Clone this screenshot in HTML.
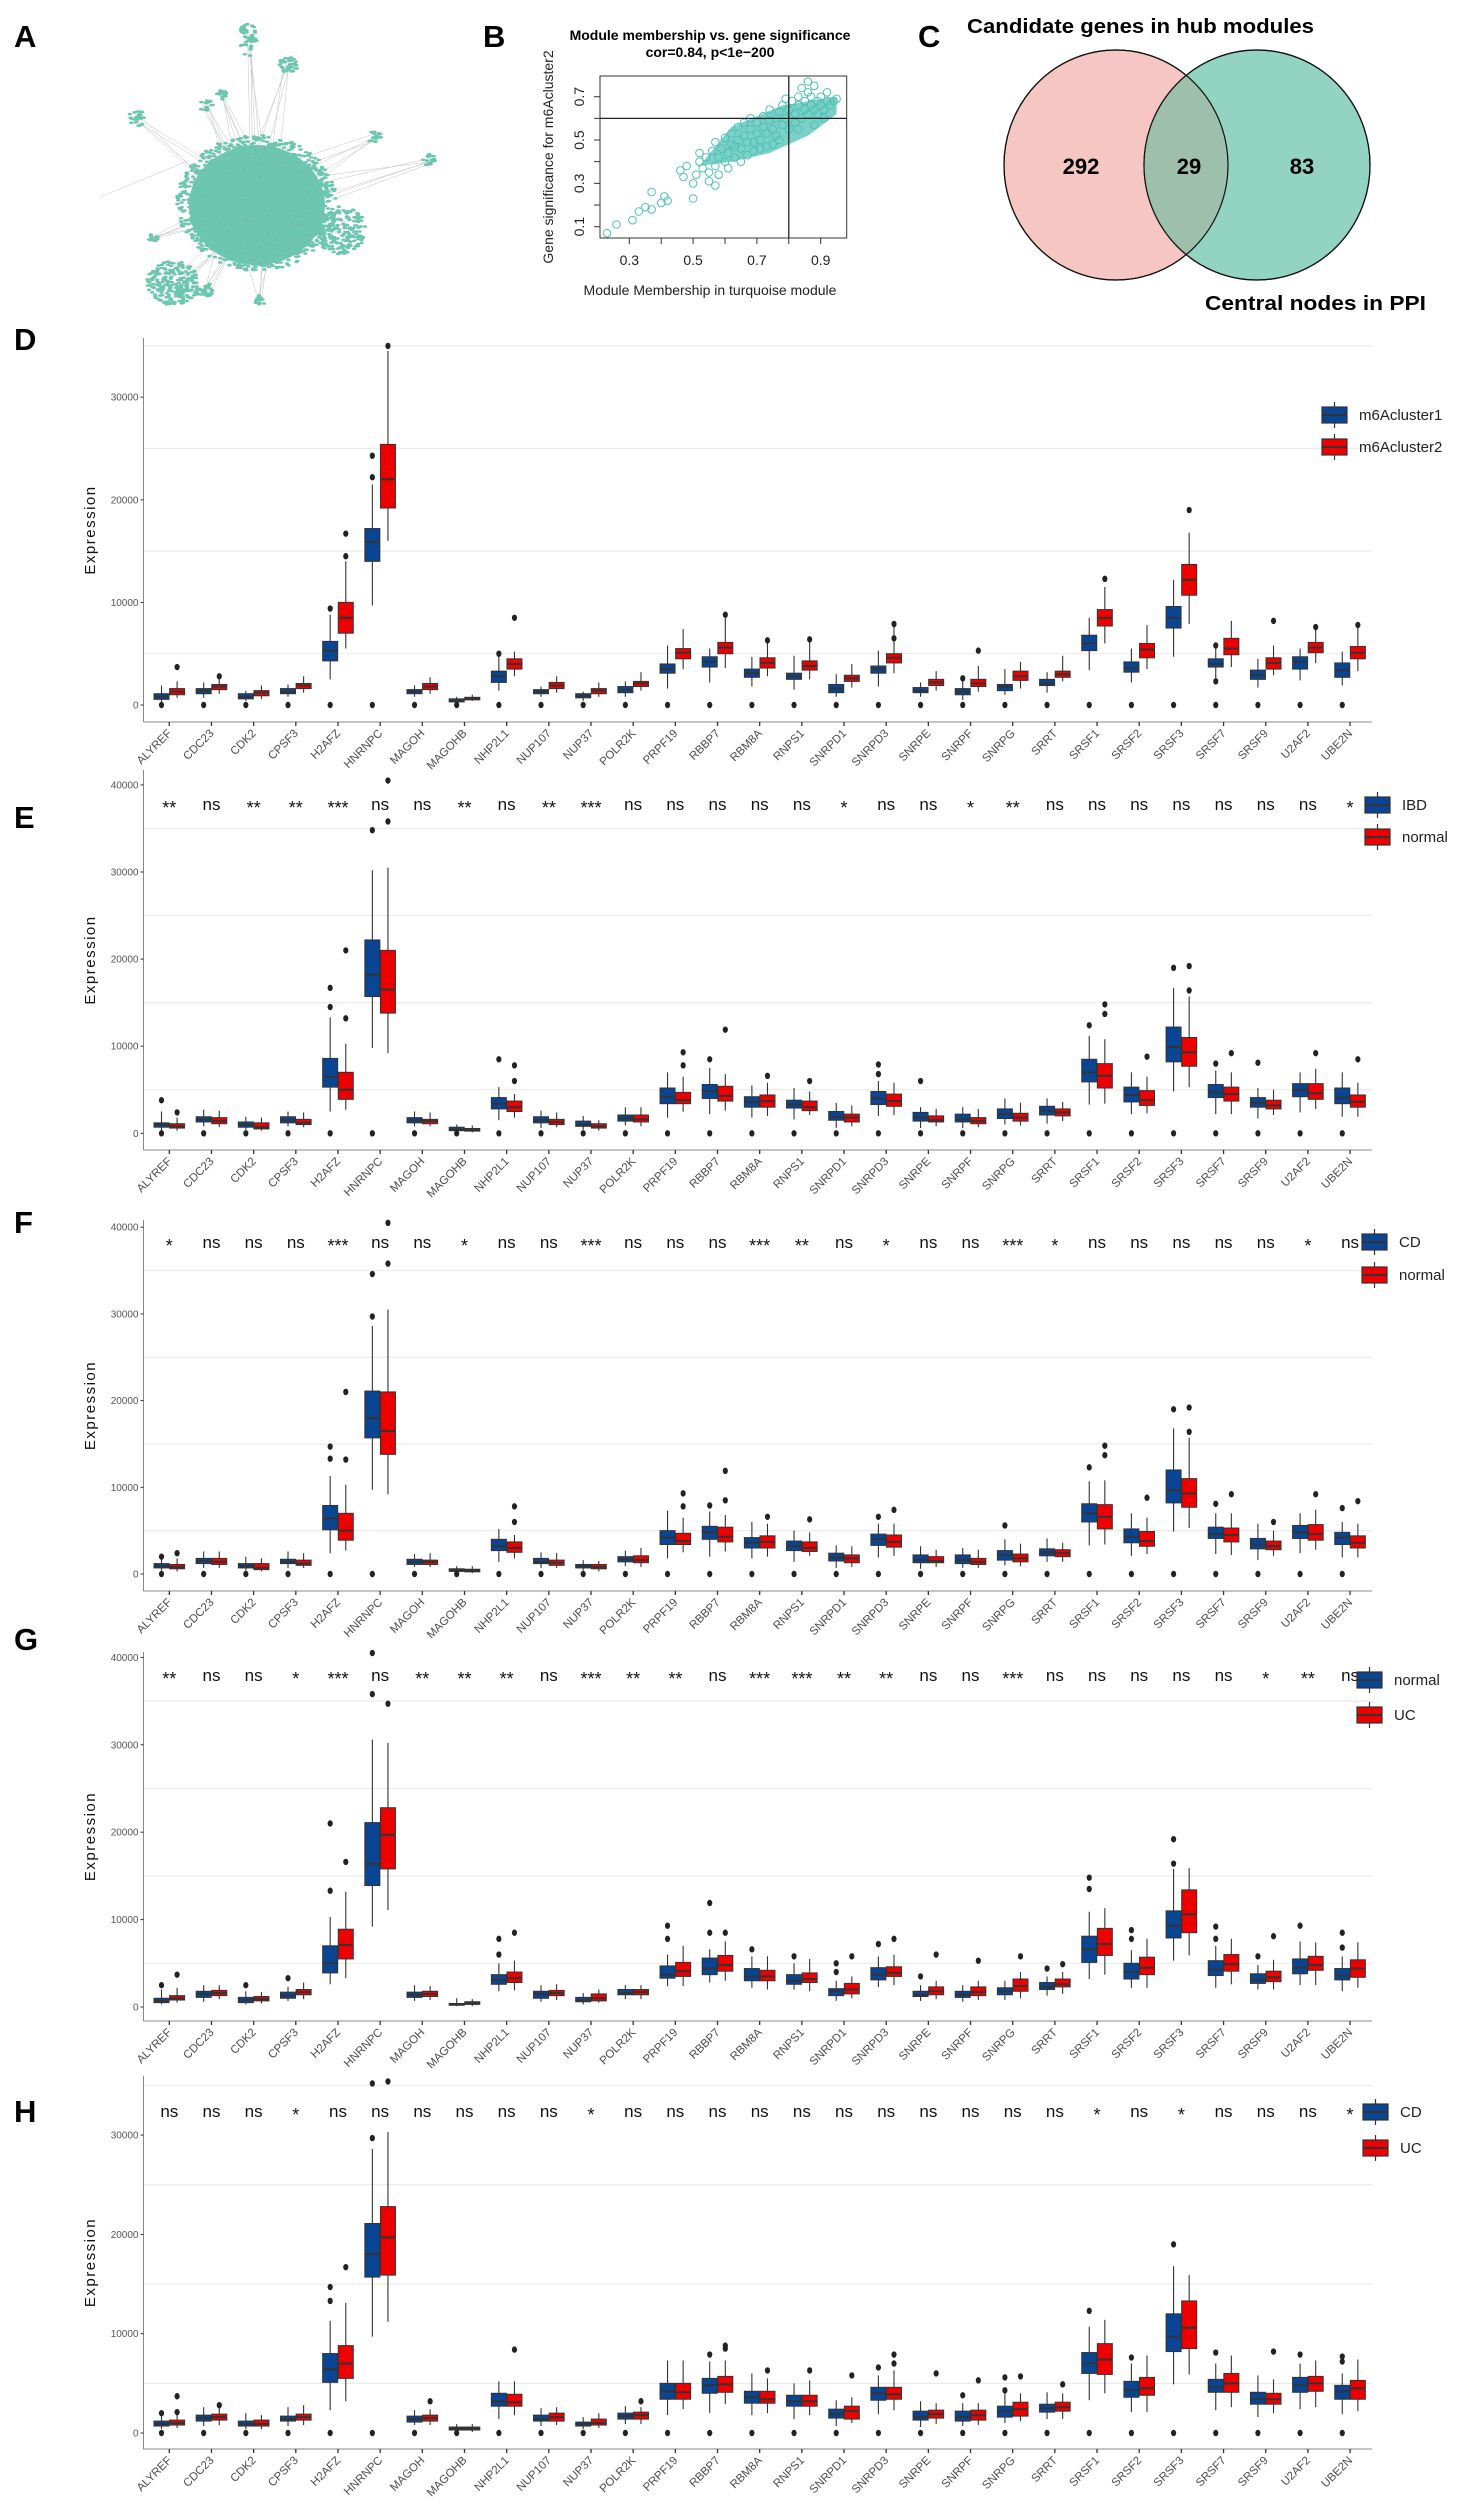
<!DOCTYPE html>
<html><head><meta charset="utf-8"><title>Figure</title>
<style>
html,body{margin:0;padding:0;background:#fff;}
svg{display:block;font-family:"Liberation Sans",Arial,sans-serif;}
</style></head>
<body>
<svg id="fig" width="1471" height="2500" viewBox="0 0 1471 2500" xmlns="http://www.w3.org/2000/svg">
  <g id="panelA"></g>
  <g id="panelB"></g>
  <g id="panelC">
    <defs>
      <clipPath id="clipPink"><ellipse cx="1116" cy="165" rx="112" ry="115"/></clipPath>
    </defs>
    <ellipse cx="1116" cy="165" rx="112" ry="115" fill="#f5c6c2" stroke="#111" stroke-width="1.2"/>
    <ellipse cx="1257" cy="165" rx="113" ry="115" fill="#93d3c1" stroke="#111" stroke-width="1.2"/>
    <ellipse cx="1257" cy="165" rx="113" ry="115" fill="#9dbfab" clip-path="url(#clipPink)"/>
    <ellipse cx="1116" cy="165" rx="112" ry="115" fill="none" stroke="#111" stroke-width="1.2"/>
    <ellipse cx="1257" cy="165" rx="113" ry="115" fill="none" stroke="#111" stroke-width="1.2"/>
    <text x="1081" y="174" font-size="22" font-weight="bold" text-anchor="middle">292</text>
    <text x="1189" y="174" font-size="22" font-weight="bold" text-anchor="middle">29</text>
    <text x="1302" y="174" font-size="22" font-weight="bold" text-anchor="middle">83</text>
    <text x="967" y="33" font-size="20" font-weight="bold" textLength="347" lengthAdjust="spacingAndGlyphs">Candidate genes in hub modules</text>
    <text x="1205" y="310" font-size="20" font-weight="bold" textLength="221" lengthAdjust="spacingAndGlyphs">Central nodes in PPI</text>
  </g>
  <g id="labels" font-weight="bold" font-size="31">
    <text x="14" y="47">A</text>
    <text x="483" y="47">B</text>
    <text x="918" y="47">C</text>
    <text x="14" y="350">D</text>
    <text x="14" y="828">E</text>
    <text x="14" y="1233">F</text>
    <text x="14" y="1650">G</text>
    <text x="14" y="2122">H</text>
  </g>
  <g id="boxPanels"></g>
</svg>
<script>
// ---------------- shared gene categories ----------------
const genes = ["ALYREF","CDC23","CDK2","CPSF3","H2AFZ","HNRNPC","MAGOH","MAGOHB","NHP2L1","NUP107","NUP37","POLR2K","PRPF19","RBBP7","RBM8A","RNPS1","SNRPD1","SNRPD3","SNRPE","SNRPF","SNRPG","SRRT","SRSF1","SRSF2","SRSF3","SRSF7","SRSF9","U2AF2","UBE2N"];

// box stats per gene: [q1, median, q3, whiskerLow, whiskerHigh] (thousands)
// ---- Panel D: m6Acluster1 vs m6Acluster2 ----
const D_blue = [[.55,.8,1.1,.3,1.9],[1.1,1.4,1.6,.7,2.2],[.6,.8,1.1,.4,1.4],[1.1,1.3,1.6,.8,2.0],[4.3,5.3,6.2,2.5,8.8],[14.0,15.9,17.2,9.7,21.5],[1.1,1.3,1.5,.8,1.9],[.3,.45,.6,.1,.8],[2.2,2.8,3.3,1.4,5.0],[1.1,1.3,1.5,.8,1.8],[.7,.9,1.1,.4,1.3],[1.2,1.5,1.8,.8,2.3],[3.1,3.5,4.0,1.6,5.8],[3.7,4.2,4.7,2.2,5.5],[2.7,3.1,3.5,1.8,4.7],[2.5,2.8,3.1,1.5,4.8],[1.2,1.6,2.0,.8,3.0],[3.1,3.5,3.8,1.8,5.3],[1.2,1.4,1.7,.8,2.2],[1.0,1.3,1.6,.5,2.6],[1.4,1.8,2.0,1.0,3.5],[1.9,2.1,2.5,1.2,3.2],[5.3,6.0,6.8,3.4,8.5],[3.2,3.6,4.2,2.2,5.5],[7.5,8.5,9.6,4.7,12.2],[3.7,4.0,4.5,2.5,5.7],[2.5,2.9,3.4,1.7,4.5],[3.5,4.2,4.7,2.4,5.5],[2.7,3.4,4.1,1.9,5.2]];
const D_red = [[1.0,1.3,1.6,.7,2.3],[1.5,1.8,2.0,1.1,2.6],[.9,1.2,1.4,.6,1.9],[1.6,1.9,2.1,1.2,2.8],[7.0,8.5,10.0,5.5,14.0],[19.2,22.0,25.4,16.0,34.5],[1.5,1.8,2.1,1.1,2.7],[.5,.65,.75,.4,1.0],[3.5,4.0,4.5,2.8,5.2],[1.6,1.9,2.2,1.2,2.8],[1.1,1.4,1.6,.8,2.2],[1.8,2.1,2.3,1.4,3.2],[4.5,5.1,5.5,3.5,7.4],[5.0,5.6,6.1,3.6,8.5],[3.6,4.1,4.6,2.8,6.2],[3.4,3.8,4.3,2.5,6.3],[2.3,2.6,2.9,1.7,4.0],[4.1,4.6,5.0,3.1,7.8],[1.9,2.2,2.5,1.4,3.3],[1.8,2.1,2.5,1.3,3.8],[2.4,2.8,3.3,1.6,4.2],[2.7,3.0,3.3,2.3,4.8],[7.7,8.5,9.3,6.0,11.5],[4.6,5.4,6.0,3.5,7.8],[10.7,12.2,13.7,7.9,16.8],[4.9,5.5,6.5,3.7,8.2],[3.5,4.1,4.6,2.9,5.8],[5.1,5.6,6.1,4.1,7.8],[4.5,5.1,5.7,3.3,7.6]];
const D_outliers = [[4,0,9.4],[4,1,14.5],[4,1,16.7],[5,0,22.2],[5,0,24.3],[5,1,35.0],[0,1,3.7],[1,1,2.8],[8,0,5.0],[8,1,8.5],[13,1,8.8],[14,1,6.3],[15,1,6.4],[17,1,7.9],[17,1,6.5],[19,0,2.6],[19,1,5.3],[22,1,12.3],[24,1,19.0],[25,0,2.3],[25,0,5.8],[26,1,8.2],[27,1,7.6],[28,1,7.8]];
const D_zeros = [0,1,2,3,4,5,6,7,8,9,10,11,12,13,14,15,16,17,18,19,20,21,22,23,24,25,26,27,28];
const D_legend = ["m6Acluster1","m6Acluster2"];
const D_yticks = [0,10000,20000,30000];

// ---- Panel E: IBD vs normal ----
const E_blue = [[.7,1.0,1.2,.3,2.5],[1.3,1.6,1.9,.8,2.7],[.7,1.0,1.3,.4,1.9],[1.2,1.5,1.9,.8,2.5],[5.3,6.5,8.6,2.5,13.3],[15.7,18.2,22.2,9.8,30.2],[1.2,1.5,1.8,.8,2.5],[.3,.45,.7,.1,1.0],[2.8,3.4,4.1,1.5,5.3],[1.2,1.5,1.9,.6,2.6],[.8,1.0,1.4,.4,2.0],[1.4,1.7,2.1,.9,3.0],[3.4,4.2,5.2,1.8,7.0],[4.0,4.8,5.6,2.2,7.5],[3.0,3.6,4.2,1.8,5.5],[2.9,3.3,3.8,1.6,5.2],[1.5,1.9,2.5,.6,3.5],[3.3,4.0,4.8,2.0,6.0],[1.4,1.8,2.4,.6,3.0],[1.3,1.6,2.2,.6,3.0],[1.7,2.2,2.8,1.0,4.0],[2.1,2.6,3.1,1.1,4.0],[5.9,7.0,8.5,3.3,11.2],[3.6,4.4,5.3,2.2,7.0],[8.2,9.9,12.2,4.8,16.7],[4.1,4.7,5.6,2.2,7.2],[3.0,3.5,4.1,1.7,5.2],[4.2,5.0,5.7,2.4,7.0],[3.4,4.1,5.2,1.9,7.0]];
const E_red = [[.6,.8,1.1,.3,1.8],[1.1,1.4,1.8,.7,2.6],[.5,.7,1.2,.3,1.8],[1.0,1.2,1.6,.7,2.4],[3.9,5.0,7.0,2.7,10.3],[13.8,16.5,21.0,9.2,30.5],[1.1,1.4,1.6,.8,2.4],[.25,.4,.55,.1,.9],[2.5,3.0,3.7,1.8,4.5],[1.0,1.3,1.6,.7,2.4],[.6,.8,1.1,.3,1.5],[1.3,1.6,2.1,.8,3.0],[3.4,3.8,4.7,2.5,6.5],[3.7,4.3,5.4,2.6,6.8],[3.0,3.7,4.4,2.0,5.8],[2.6,3.0,3.7,2.1,4.8],[1.3,1.8,2.2,.8,3.2],[3.1,3.7,4.5,2.1,5.8],[1.3,1.5,2.0,.8,2.8],[1.1,1.4,1.8,.7,2.8],[1.4,1.8,2.3,.9,3.5],[2.0,2.4,2.8,1.4,3.6],[5.2,6.6,8.0,3.4,10.8],[3.2,3.8,4.9,2.3,6.5],[7.7,9.3,11.0,5.3,15.7],[3.7,4.5,5.3,2.2,7.0],[2.8,3.2,3.8,2.1,5.0],[3.9,4.6,5.7,2.8,7.4],[3.0,3.6,4.4,1.9,5.8]];
const E_outliers = [[0,0,3.8],[0,1,2.4],[4,0,14.5],[4,0,16.7],[4,1,13.2],[4,1,21.0],[5,0,34.8],[5,1,35.8],[5,1,40.5],[8,0,8.5],[8,1,6.0],[8,1,7.8],[12,1,7.8],[12,1,9.3],[13,0,8.5],[13,1,11.9],[14,1,6.6],[15,1,6.0],[17,0,6.8],[17,0,7.9],[18,0,6.0],[22,0,12.4],[22,1,13.7],[22,1,14.8],[23,1,8.8],[24,0,19.0],[24,1,16.4],[24,1,19.2],[25,0,8.0],[25,1,9.2],[26,0,8.1],[27,1,9.2],[28,1,8.5]];
const E_zeros = [0,1,2,3,4,5,6,7,8,9,10,11,12,13,14,15,16,17,18,19,20,21,22,23,24,25,26,27,28];
const E_legend = ["IBD","normal"];
const E_stars = ["**","ns","**","**","***","ns","ns","**","ns","**","***","ns","ns","ns","ns","ns","*","ns","ns","*","**","ns","ns","ns","ns","ns","ns","ns","*"];
const E_yticks = [0,10000,20000,30000,40000];

// ---- Panel F: CD vs normal ----
const F_blue = [[.7,.9,1.2,.4,2.0],[1.2,1.5,1.8,.7,2.6],[.7,.9,1.2,.4,2.0],[1.2,1.4,1.7,.7,2.6],[5.1,6.4,7.9,2.4,11.3],[15.7,18.0,21.1,9.7,28.6],[1.1,1.4,1.7,.8,2.3],[.3,.45,.6,.1,.9],[2.7,3.2,4.0,1.4,5.2],[1.2,1.4,1.8,.7,2.5],[.7,.9,1.1,.4,1.6],[1.4,1.7,2.0,.9,2.7],[3.4,4.2,5.0,1.8,7.3],[4.0,4.8,5.5,2.0,7.2],[3.0,3.6,4.2,1.8,6.0],[2.7,3.2,3.8,1.4,5.0],[1.5,1.9,2.4,.7,3.3],[3.3,4.0,4.6,1.9,5.8],[1.3,1.6,2.2,.6,3.2],[1.2,1.6,2.2,.7,3.0],[1.6,2.2,2.7,1.0,4.0],[2.1,2.5,2.9,1.4,4.1],[6.0,7.0,8.1,3.3,10.7],[3.6,4.3,5.2,2.1,7.0],[8.2,9.7,12.0,4.9,16.8],[4.1,4.6,5.4,2.3,7.0],[2.9,3.4,4.1,1.6,5.8],[4.1,4.8,5.6,2.4,7.0],[3.4,4.2,4.8,1.9,6.0]];
const F_red = [[.6,.8,1.1,.3,1.8],[1.1,1.4,1.8,.7,2.6],[.5,.7,1.2,.3,1.8],[1.0,1.2,1.6,.7,2.4],[3.9,5.0,7.0,2.7,10.3],[13.8,16.5,21.0,9.2,30.5],[1.1,1.4,1.6,.8,2.4],[.25,.4,.55,.1,.9],[2.5,3.0,3.7,1.8,4.5],[1.0,1.3,1.6,.7,2.4],[.6,.8,1.1,.3,1.5],[1.3,1.6,2.1,.8,3.0],[3.4,3.8,4.7,2.5,6.5],[3.7,4.3,5.4,2.6,6.8],[3.0,3.7,4.4,2.0,5.8],[2.6,3.0,3.7,2.1,4.8],[1.3,1.8,2.2,.8,3.2],[3.1,3.7,4.5,2.1,5.8],[1.3,1.5,2.0,.8,2.8],[1.1,1.4,1.8,.7,2.8],[1.4,1.8,2.3,.9,3.5],[2.0,2.4,2.8,1.4,3.6],[5.2,6.6,8.0,3.4,10.8],[3.2,3.8,4.9,2.3,6.5],[7.7,9.3,11.0,5.3,15.7],[3.7,4.5,5.3,2.2,7.0],[2.8,3.2,3.8,2.1,5.0],[3.9,4.6,5.7,2.8,7.4],[3.0,3.6,4.4,1.9,5.8]];
const F_outliers = [[0,0,2.0],[0,1,2.4],[4,0,13.3],[4,0,14.7],[4,1,13.2],[4,1,21.0],[5,0,29.7],[5,0,34.6],[5,1,35.8],[5,1,40.5],[8,1,6.0],[8,1,7.8],[12,1,7.8],[12,1,9.3],[13,0,7.9],[13,1,8.5],[13,1,11.9],[14,1,6.6],[15,1,6.3],[17,0,6.6],[17,1,7.4],[20,0,5.6],[22,0,12.3],[22,1,13.7],[22,1,14.8],[23,1,8.8],[24,0,19.0],[24,1,16.4],[24,1,19.2],[25,0,8.1],[25,1,9.2],[26,1,6.0],[27,1,9.2],[28,0,7.6],[28,1,8.4]];
const F_zeros = [0,1,2,3,4,5,6,7,8,9,10,11,12,13,14,15,16,17,18,19,20,21,22,23,24,25,26,27,28];
const F_legend = ["CD","normal"];
const F_stars = ["*","ns","ns","ns","***","ns","ns","*","ns","ns","***","ns","ns","ns","***","**","ns","*","ns","ns","***","*","ns","ns","ns","ns","ns","*","ns"];
const F_yticks = [0,10000,20000,30000,40000];

// ---- Panel G: normal vs UC ----
const G_blue = [[.5,.7,1.0,.3,2.0],[1.1,1.5,1.8,.6,2.5],[.5,.8,1.1,.3,1.8],[1.0,1.3,1.7,.7,2.3],[3.9,5.0,7.0,2.6,10.3],[13.9,16.4,21.1,9.2,30.6],[1.1,1.4,1.7,.7,2.5],[.2,.3,.4,.1,1.0],[2.6,3.1,3.7,1.8,5.0],[1.0,1.5,1.8,.6,2.5],[.6,.8,1.1,.3,1.6],[1.4,1.6,2.0,.9,2.5],[3.3,3.7,4.7,2.4,6.0],[3.7,4.4,5.6,2.8,6.6],[3.0,3.5,4.4,2.2,5.8],[2.6,3.0,3.7,2.0,5.0],[1.3,1.8,2.1,.7,3.0],[3.1,3.7,4.5,2.3,5.8],[1.2,1.4,1.8,.7,2.5],[1.1,1.4,1.8,.6,2.5],[1.4,1.8,2.2,.8,3.0],[2.0,2.3,2.8,1.3,3.5],[5.1,6.6,8.1,3.2,10.9],[3.2,4.0,5.0,2.2,6.5],[7.9,9.3,11.0,5.3,15.8],[3.6,4.3,5.3,2.2,7.0],[2.7,3.1,3.8,2.0,4.8],[3.8,4.5,5.5,2.5,7.5],[3.1,3.6,4.4,1.8,5.8]];
const G_red = [[.8,1.0,1.3,.5,2.2],[1.3,1.6,1.9,.9,2.5],[.7,.9,1.2,.4,1.7],[1.4,1.7,2.0,.9,2.8],[5.5,7.1,8.9,3.3,13.2],[15.8,19.7,22.8,11.1,30.2],[1.2,1.5,1.8,.8,2.4],[.3,.45,.6,.1,.9],[2.8,3.3,4.0,1.9,5.3],[1.3,1.6,1.9,.8,2.6],[.7,1.0,1.5,.5,2.0],[1.4,1.7,2.0,.9,2.5],[3.5,4.1,5.1,2.4,7.0],[4.1,4.8,5.9,3.0,7.5],[3.0,3.5,4.2,2.0,5.8],[2.8,3.2,3.9,1.8,5.5],[1.5,2.0,2.7,1.0,3.5],[3.5,3.9,4.6,2.5,6.0],[1.4,1.8,2.3,.9,3.0],[1.3,1.7,2.3,.8,3.0],[1.8,2.4,3.2,1.0,4.0],[2.3,2.6,3.2,1.5,4.0],[5.9,7.2,9.0,3.7,11.3],[3.7,4.5,5.7,2.2,7.8],[8.5,10.6,13.4,5.9,15.9],[4.1,4.9,6.0,2.6,7.8],[2.9,3.4,4.1,2.0,5.4],[4.2,4.8,5.8,2.5,7.4],[3.4,4.4,5.4,2.2,7.4]];
const G_outliers = [[0,0,2.5],[0,1,3.7],[2,0,2.5],[3,0,3.3],[4,0,13.3],[4,0,21.0],[4,1,16.6],[5,0,35.8],[5,0,40.5],[5,1,34.7],[8,0,6.0],[8,0,7.8],[8,1,8.5],[12,0,7.8],[12,0,9.3],[13,0,8.5],[13,0,11.9],[13,1,8.5],[14,0,6.6],[15,0,5.8],[16,0,4.0],[16,0,5.0],[16,1,5.8],[17,0,7.2],[17,1,7.8],[18,0,3.5],[18,1,6.0],[19,1,5.3],[20,1,5.8],[21,0,4.4],[21,1,4.9],[22,0,13.5],[22,0,14.8],[23,0,7.8],[23,0,8.8],[24,0,16.4],[24,0,19.2],[25,0,7.8],[25,0,9.2],[26,0,5.8],[26,1,8.1],[27,0,9.3],[28,0,6.8],[28,0,8.5]];
const G_zeros = [];
const G_legend = ["normal","UC"];
const G_stars = ["**","ns","ns","*","***","ns","**","**","**","ns","***","**","**","ns","***","***","**","**","ns","ns","***","ns","ns","ns","ns","ns","*","**","ns"];
const G_yticks = [0,10000,20000,30000,40000];

// ---- Panel H: CD vs UC ----
const H_blue = [[.7,.9,1.2,.4,2.0],[1.2,1.5,1.8,.7,2.6],[.7,.9,1.2,.4,2.0],[1.2,1.4,1.7,.7,2.6],[5.1,6.4,8.0,2.3,11.3],[15.7,18.0,21.1,9.7,28.6],[1.1,1.4,1.7,.8,2.3],[.3,.45,.6,.1,.9],[2.7,3.2,4.0,1.4,5.2],[1.2,1.4,1.8,.7,2.5],[.7,.9,1.1,.4,1.6],[1.4,1.7,2.0,.9,2.7],[3.4,4.2,5.0,1.8,7.3],[4.0,4.8,5.5,2.0,7.2],[3.0,3.6,4.2,1.8,6.0],[2.7,3.2,3.8,1.4,5.0],[1.5,1.9,2.4,.7,3.3],[3.3,4.0,4.6,1.9,5.8],[1.3,1.6,2.2,.6,3.2],[1.2,1.6,2.2,.7,3.0],[1.6,2.2,2.7,1.0,4.0],[2.1,2.5,2.9,1.4,4.1],[6.0,7.0,8.1,3.3,10.7],[3.6,4.3,5.2,2.1,7.0],[8.2,9.7,12.0,4.9,16.8],[4.1,4.6,5.4,2.3,7.0],[2.9,3.4,4.1,1.6,5.8],[4.1,4.8,5.6,2.4,7.0],[3.4,4.2,4.8,1.9,6.0]];
const H_red = [[.8,1.0,1.3,.5,2.0],[1.3,1.6,1.9,.8,2.7],[.7,.9,1.3,.4,1.8],[1.3,1.6,1.9,.8,2.8],[5.5,7.0,8.8,3.2,13.1],[15.9,19.7,22.8,11.2,30.3],[1.2,1.5,1.8,.8,2.4],[.3,.45,.6,.1,.9],[2.7,3.1,3.9,1.8,5.2],[1.2,1.6,2.0,.8,2.6],[.8,1.0,1.4,.5,2.0],[1.4,1.8,2.1,.9,2.6],[3.4,4.1,5.0,2.4,7.3],[4.1,4.9,5.7,2.9,7.3],[3.0,3.4,4.2,2.0,5.5],[2.7,3.2,3.8,1.8,5.3],[1.4,2.2,2.7,1.0,3.6],[3.4,3.9,4.6,2.3,6.3],[1.5,1.9,2.3,.9,3.0],[1.3,1.8,2.3,.8,3.0],[1.7,2.4,3.1,1.2,4.0],[2.2,2.6,3.1,1.4,4.0],[5.9,7.4,9.0,4.0,11.4],[3.8,4.5,5.6,2.1,7.8],[8.5,10.6,13.3,5.9,15.9],[4.1,5.0,6.0,2.6,7.8],[2.9,3.4,4.0,2.0,5.4],[4.2,5.0,5.7,2.6,7.3],[3.4,4.5,5.3,2.2,7.4]];
const H_outliers = [[0,0,2.0],[0,1,2.1],[0,1,3.7],[1,1,2.8],[4,0,13.3],[4,0,14.7],[4,1,16.7],[5,0,29.7],[5,0,35.2],[5,1,35.4],[6,1,3.2],[8,1,8.4],[11,1,3.2],[13,0,7.9],[13,1,8.5],[13,1,8.8],[14,1,6.3],[15,1,6.3],[16,1,5.8],[17,0,6.6],[17,1,7.0],[17,1,7.9],[18,1,6.0],[19,0,3.8],[19,1,5.3],[20,0,4.3],[20,0,5.6],[20,1,5.7],[21,1,4.9],[22,0,12.3],[23,0,7.6],[24,0,19.0],[25,0,8.1],[26,1,8.2],[27,0,7.9],[28,0,7.2],[28,0,7.7]];
const H_zeros = [0,1,2,3,4,5,6,7,8,9,10,11,12,13,14,15,16,17,18,19,20,21,22,23,24,25,26,27,28];
const H_legend = ["CD","UC"];
const H_stars = ["ns","ns","ns","*","ns","ns","ns","ns","ns","ns","*","ns","ns","ns","ns","ns","ns","ns","ns","ns","ns","ns","*","ns","*","ns","ns","ns","*"];
const H_yticks = [0,10000,20000,30000];

// ---------------- Panel B scatter data ----------------
const B_mm = [0.23,0.26,0.31,0.33,0.35,0.37,0.40,0.37,0.42,0.41,0.46,0.47,0.48,0.50,0.50,0.51,0.52,0.53,0.54,0.55,0.56,0.57,0.57,0.58,0.59,0.60,0.60,0.61,0.62,0.62,0.63,0.64,0.64,0.65,0.66,0.66,0.67,0.68,0.68,0.69,0.70,0.70,0.71,0.72,0.72,0.73,0.74,0.74,0.75,0.76,0.76,0.77,0.78,0.78,0.79,0.80,0.80,0.81,0.82,0.82,0.83,0.83,0.84,0.85,0.85,0.86,0.86,0.87,0.87,0.88,0.88,0.89,0.89,0.90,0.90,0.91,0.92,0.92,0.93,0.86,0.84,0.79,0.75,0.71,0.67,0.63,0.58,0.55,0.52,0.94,0.95,0.91,0.88,0.83,0.77,0.73,0.69,0.65,0.61,0.57];
const B_gs = [0.07,0.11,0.13,0.17,0.19,0.18,0.21,0.26,0.22,0.24,0.36,0.33,0.38,0.30,0.23,0.34,0.40,0.37,0.42,0.35,0.45,0.38,0.49,0.42,0.46,0.40,0.51,0.44,0.48,0.53,0.42,0.50,0.56,0.46,0.52,0.58,0.49,0.55,0.60,0.45,0.53,0.58,0.50,0.56,0.61,0.53,0.59,0.64,0.55,0.60,0.52,0.63,0.57,0.66,0.60,0.55,0.64,0.68,0.58,0.62,0.66,0.70,0.60,0.64,0.68,0.72,0.62,0.66,0.70,0.64,0.75,0.68,0.62,0.66,0.70,0.64,0.68,0.72,0.66,0.77,0.74,0.69,0.48,0.46,0.43,0.47,0.34,0.31,0.44,0.68,0.69,0.60,0.57,0.55,0.50,0.47,0.49,0.40,0.37,0.29];
const B_xticks = [0.3,0.5,0.7,0.9];
const B_yticks = [0.1,0.3,0.5,0.7];

// ---------------- drawing helpers ----------------
const NS = "http://www.w3.org/2000/svg";
function mk(tag, attrs, parent){
  const e = document.createElementNS(NS, tag);
  for (const k in attrs) e.setAttribute(k, attrs[k]);
  if (parent) parent.appendChild(e);
  return e;
}

// ---------- Panel A: network (decorative layout) ----------
(function(){
  const g = document.getElementById('panelA');
  let s = 12345;
  function rnd(){ s = (s*1103515245 + 12345) % 2147483648; return s/2147483648; }
  const clusters = [[257,203,80,68,1400],[173,283,26,22,220],[340,230,26,24,200],[248,40,9,18,45],[288,65,10,8,40],[137,118,9,8,25],[430,160,7,6,20],[222,95,6,5,18],[205,105,8,6,15],[375,137,7,7,20],[152,238,6,4,12],[205,290,10,8,30],[260,300,6,5,12]];
  const lines = mk('g',{stroke:'#c4c4c4','stroke-width':'0.5',fill:'none'},g);
  
  
  clusters.slice(1).forEach(c=>{
    for(let k=0;k<5;k++){
      mk('line',{x1:257+(rnd()-0.5)*60,y1:203+(rnd()-0.5)*60,x2:c[0]+(rnd()-0.5)*c[2],y2:c[1]+(rnd()-0.5)*c[3]},lines);
    }
  });
  mk('line',{x1:100,y1:197,x2:190,y2:160},lines);
  const core = mk('ellipse',{cx:257,cy:205,rx:68,ry:60,fill:'#6cc6b0'},g);
  
  
  const dots = mk('g',{fill:'#6cc6b0'},g);
  
  
  clusters.forEach(c=>{
    for(let k=0;k<c[4];k++){
      const a = rnd()*Math.PI*2, r = Math.sqrt(rnd());
      mk('ellipse',{cx:(c[0]+Math.cos(a)*r*c[2]).toFixed(1),cy:(c[1]+Math.sin(a)*r*c[3]).toFixed(1),rx:2.2,ry:1.3},dots);
    }
  });
  const ed = mk('g',{fill:'#9c7b8c'},g);
  for(let k=0;k<80;k++){
    const a = rnd()*Math.PI*2, r = Math.sqrt(rnd());
    mk('rect',{x:(257+Math.cos(a)*r*70).toFixed(1),y:(203+Math.sin(a)*r*60).toFixed(1),width:1.5,height:0.8,opacity:0.6},ed);
  }
})();

// ---------- Panel B: scatter ----------
(function(){
  const g = document.getElementById('panelB');
  const L=600,R=846.7,T=76,Bt=238;
  const xs = v => 629.3 + (v-0.3)/0.1*31.9;
  const ys = v => 226.7 - (v-0.1)/0.1*21.67;
  const t1 = mk('text',{x:710,y:40,'font-size':14,'font-weight':'bold','text-anchor':'middle'},g);
  t1.textContent='Module membership vs. gene significance';
  
  
  const t2 = mk('text',{x:710,y:57,'font-size':14,'font-weight':'bold','text-anchor':'middle'},g);
  t2.textContent='cor=0.84, p<1e\u2212200';
  
  
  // dense cloud underlay
  const cloud = mk('path',{d:`M${xs(0.62)} ${ys(0.56)} L${xs(0.78)} ${ys(0.66)} L${xs(0.95)} ${ys(0.70)} L${xs(0.95)} ${ys(0.62)} L${xs(0.86)} ${ys(0.52)} L${xs(0.74)} ${ys(0.44)} L${xs(0.62)} ${ys(0.40)} L${xs(0.52)} ${ys(0.38)} Z`,fill:'#4fc1b5',opacity:0.75},g);
  
  
  const pts = mk('g',{fill:'none',stroke:'#4fc1b5','stroke-width':1},g);
  B_mm.forEach((m,i)=>{
    const c = mk('circle',{cx:xs(m).toFixed(1),cy:ys(B_gs[i]).toFixed(1),r:3.8},pts);
    
    
  });
  const frame = mk('rect',{x:L,y:T,width:R-L,height:Bt-T,fill:'none',stroke:'#333','stroke-width':1},g);
  
  
  const hl = mk('line',{x1:L,x2:R,y1:ys(0.6),y2:ys(0.6),stroke:'#222','stroke-width':1.3},g);
  
  
  const vl = mk('line',{x1:xs(0.8),x2:xs(0.8),y1:T,y2:Bt,stroke:'#222','stroke-width':1.3},g);
  
  
  for(let v=0.3; v<=0.91; v+=0.1){ mk('line',{x1:xs(v),x2:xs(v),y1:Bt,y2:Bt+6,stroke:'#333'},g); }
  for(let v=0.1; v<=0.71; v+=0.1){ mk('line',{x1:L-6,x2:L,y1:ys(v),y2:ys(v),stroke:'#333'},g); }
  B_xticks.forEach(v=>{
    const t = mk('text',{x:xs(v),y:265,'font-size':14,'text-anchor':'middle',fill:'#222'},g);
    t.textContent = v.toFixed(1);
    
    
  });
  B_yticks.forEach(v=>{
    const t = mk('text',{x:584,y:ys(v),'font-size':14,'text-anchor':'middle',fill:'#222',transform:`rotate(-90 584 ${ys(v)})`},g);
    t.textContent = v.toFixed(1);
    
    
  });
  const xl = mk('text',{x:710,y:295,'font-size':14,'text-anchor':'middle',fill:'#222'},g);
  xl.textContent='Module Membership in turquoise module';
  
  
  const yl = mk('text',{x:553,y:157,'font-size':14,'text-anchor':'middle',fill:'#222',transform:'rotate(-90 553 157)'},g);
  yl.textContent='Gene significance for m6Acluster2';
  
  
})();

// ---------- Box panels ----------
const BLUE='#0a4594', RED='#ee0000';
const xGene = i => 169.3 + i*42.17;
function drawPanel(cfg){
  const root = document.getElementById('boxPanels');
  const g = mk('g',{},root);
  
  
  const yv = v => cfg.y0 - v/10000*cfg.per10k;        // v in raw units
  const yk = k => yv(k*1000);                           // k in thousands
  const AXL=143.5, AXR=1372;
  // grid (minor lines at 5000 offsets)
  [5000,15000,25000,35000].forEach(v=>{
    if (yv(v) > cfg.top+2) mk('line',{x1:AXL,x2:AXR,y1:yv(v),y2:yv(v),stroke:'#ebebeb','stroke-width':1.2},g);
  });
  // axes
  const ya = mk('line',{x1:AXL,x2:AXL,y1:cfg.top,y2:cfg.bottom,stroke:'#888','stroke-width':1},g);
  
  
  const xa = mk('line',{x1:AXL,x2:AXR,y1:cfg.bottom,y2:cfg.bottom,stroke:'#888','stroke-width':1},g);
  
  
  cfg.yticks.forEach(v=>{
    mk('line',{x1:AXL-3,x2:AXL,y1:yv(v),y2:yv(v),stroke:'#333'},g);
    const t = mk('text',{x:AXL-5,y:yv(v)+3.5,'font-size':10,'text-anchor':'end',fill:'#555'},g);
    t.textContent = String(v);
    
    
  });
  const yt = mk('text',{x:95,y:(cfg.top+cfg.bottom)/2,'font-size':15,'text-anchor':'middle','letter-spacing':'1.5',fill:'#111',transform:`rotate(-90 95 ${(cfg.top+cfg.bottom)/2})`},g);
  yt.textContent='Expression';
  
  
  genes.forEach((name,i)=>{
    const x = xGene(i);
    mk('line',{x1:x,x2:x,y1:cfg.bottom,y2:cfg.bottom+4,stroke:'#333','stroke-width':1.3},g);
    const ty = cfg.bottom+12;
    const t = mk('text',{x:x+3,y:ty,'font-size':11.5,'text-anchor':'end',fill:'#4d4d4d',transform:`rotate(-45 ${x+3} ${ty})`},g);
    t.textContent = name;
    
    
  });
  // boxes
  [[cfg.blue,-7.8,BLUE],[cfg.red,7.8,RED]].forEach(([arr,dx,col],grp)=>{
    arr.forEach((s,i)=>{
      const cx = xGene(i)+dx, w=15;
      const bg = mk('g',{},g);
      
      
      mk('line',{x1:cx,x2:cx,y1:yk(s[3]),y2:yk(s[4]),stroke:'#333','stroke-width':1.1},bg);
      mk('rect',{x:cx-w/2,y:yk(s[2]),width:w,height:Math.max(1.5,yk(s[0])-yk(s[2])),fill:col,stroke:'#333','stroke-width':1},bg);
      mk('line',{x1:cx-w/2,x2:cx+w/2,y1:yk(s[1]),y2:yk(s[1]),stroke:'#333','stroke-width':2},bg);
    });
  });
  // outliers
  cfg.outliers.forEach(o=>{
    const cx = xGene(o[0]) + (o[1]===0?-7.8:7.8);
    const c = mk('ellipse',{cx:cx,cy:yk(o[2]),rx:2.6,ry:3.2,fill:'#222'},g);
    
    
  });
  cfg.zeros.forEach(i=>{
    const c = mk('ellipse',{cx:xGene(i)-7.8,cy:yk(0),rx:2.6,ry:3.2,fill:'#222'},g);
    
    
  });
  // significance labels
  if (cfg.stars){
    cfg.stars.forEach((s,i)=>{
      const t = mk('text',{x:xGene(i),y:cfg.starY+(s==='ns'?5:9),'font-size':s==='ns'?17:18,'text-anchor':'middle',fill:'#111'},g);
      t.textContent = s;
      
      
    });
  }
  // legend
  [[cfg.legend[0],BLUE,cfg.legY1],[cfg.legend[1],RED,cfg.legY2]].forEach(([lab,col,ly])=>{
    const lg = mk('g',{},g);
    
    
    const kx = cfg.legX;
    mk('line',{x1:kx+12.5,x2:kx+12.5,y1:ly-13,y2:ly+13,stroke:'#333','stroke-width':1.2},lg);
    mk('rect',{x:kx,y:ly-8,width:25,height:16,fill:col,stroke:'#333','stroke-width':1.2},lg);
    mk('line',{x1:kx,x2:kx+25,y1:ly,y2:ly,stroke:'#333','stroke-width':2},lg);
    const t = mk('text',{x:kx+37,y:ly+5,'font-size':15,fill:'#222'},lg);
    t.textContent = lab;
  });
}

drawPanel({name:'panel-d-boxplot',blue:D_blue,red:D_red,outliers:D_outliers,zeros:D_zeros,legend:D_legend,yticks:D_yticks,stars:null,
  y0:705,per10k:102.6,top:338,bottom:722,legX:1322,legY1:415,legY2:447});
drawPanel({name:'panel-e-boxplot',blue:E_blue,red:E_red,outliers:E_outliers,zeros:E_zeros,legend:E_legend,yticks:E_yticks,stars:E_stars,starY:805,
  y0:1133.3,per10k:87.1,top:770,bottom:1150,legX:1365,legY1:805,legY2:837});
drawPanel({name:'panel-f-boxplot',blue:F_blue,red:F_red,outliers:F_outliers,zeros:F_zeros,legend:F_legend,yticks:F_yticks,stars:F_stars,starY:1243,
  y0:1574,per10k:86.7,top:1220,bottom:1591,legX:1362,legY1:1242,legY2:1275});
drawPanel({name:'panel-g-boxplot',blue:G_blue,red:G_red,outliers:G_outliers,zeros:G_zeros,legend:G_legend,yticks:G_yticks,stars:G_stars,starY:1676,
  y0:2007,per10k:87.4,top:1652,bottom:2021,legX:1357,legY1:1680,legY2:1715});
drawPanel({name:'panel-h-boxplot',blue:H_blue,red:H_red,outliers:H_outliers,zeros:H_zeros,legend:H_legend,yticks:H_yticks,stars:H_stars,starY:2112,
  y0:2433,per10k:99.3,top:2076,bottom:2449,legX:1363,legY1:2112,legY2:2148});
</script>
</body></html>
